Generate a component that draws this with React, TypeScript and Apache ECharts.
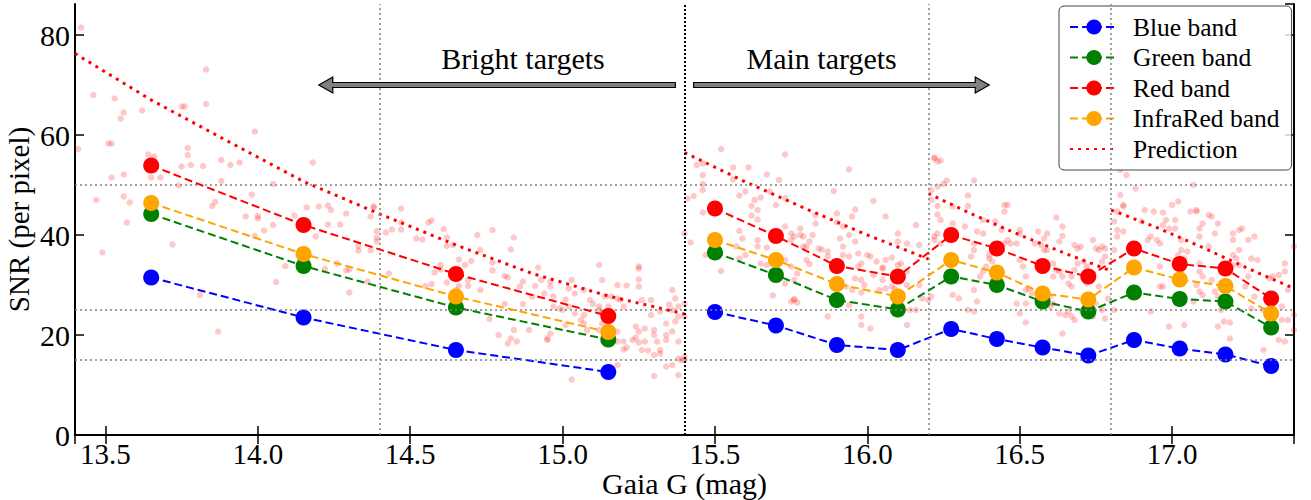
import React, { useEffect, useRef } from "react";
import * as echarts from "echarts";

// ---- data ----
const xBright = [13.65, 14.15, 14.65, 15.15];
const xMain = [15.5, 15.7, 15.9, 16.1, 16.275, 16.425, 16.575, 16.725, 16.875, 17.025, 17.175, 17.325];

const blueBright = [31.5, 23.5, 17.0, 12.6];
const blueMain = [24.6, 21.9, 18.0, 17.0, 21.2, 19.2, 17.5, 15.9, 19.0, 17.3, 16.1, 13.8];
const greenBright = [44.2, 33.8, 25.5, 19.1];
const greenMain = [36.5, 32.0, 27.0, 25.1, 31.7, 30.0, 26.7, 24.7, 28.5, 27.2, 26.7, 21.5];
const redBright = [53.9, 42.0, 32.2, 23.8];
const redMain = [45.3, 39.8, 33.8, 31.7, 40.0, 37.3, 33.8, 31.7, 37.3, 34.2, 33.3, 27.3];
const irBright = [46.4, 36.2, 27.7, 20.6];
const irMain = [39.0, 35.0, 30.2, 27.7, 35.0, 32.5, 28.3, 27.1, 33.5, 31.1, 29.8, 24.3];

const predX1 = [13.4, 13.65, 13.9, 14.15, 14.4, 14.65, 14.9, 15.15, 15.4];
const predY1 = [76.3, 67.0, 58.8, 50.7, 44.2, 38.0, 32.3, 27.8, 24.2];
const predX2 = [15.4, 15.6, 15.8, 16.0, 16.2];
const predY2 = [56.5, 50.6, 45.2, 40.0, 35.2];
const predX3 = [16.2, 16.35, 16.5, 16.65, 16.8];
const predY3 = [48.3, 44.0, 40.0, 36.3, 32.8];
const predX4 = [16.8, 16.95, 17.1, 17.25, 17.4];
const predY4 = [45.0, 41.5, 37.5, 33.3, 29.3];

const hLines = [15, 25, 50];
const vLines = [14.4, 16.2, 16.8];
const boundary = 15.4;

const arrows = [
  [15.37, 14.2, 70],
  [15.43, 16.4, 70],
];
const annotationNames = ["Bright targets", "Main targets"];
const annotationPos = [
  [14.87, 75.3],
  [15.85, 75.3],
];

const stars = [
  [13.42,81.5],[13.46,68],[13.53,67.3],[13.56,64.5],[13.55,63.3],[13.62,64.9],[13.75,65.7],[13.76,65.7],[13.83,73.1],[13.83,66.2],[13.99,60.7],[13.41,57.2],[13.51,58.3],[13.52,58.3],[13.56,52.1],[13.52,51.5],[13.64,56.1],[13.66,55.7],[13.65,51.5],[13.68,51.5],[13.77,57.4],[13.77,56],[13.75,53.7],[13.78,54],[13.82,53.8],[13.88,55],[13.91,54],[13.94,54.5],[13.74,49.9],[13.88,50.8],[14.05,50.2],[14.18,54.5],[13.47,47],[13.56,47.7],[13.58,46.5],[13.57,42.5],[13.85,45.8],[13.86,46.6],[13.98,48.1],[13.96,43.7],[14.0,43.8],[14.0,43.3],[14.02,40.9],[14.05,42],[13.99,39.8],[13.72,38.1],[13.49,36.5],[13.81,28],[14.06,30.6],[13.87,20.7],[14.09,33.8],[14.12,43.9],[14.16,45.5],[14.2,45.7],[14.23,45.9],[14.24,45],[14.23,42.1],[14.27,42.1],[14.29,44.3],[14.19,39.7],[14.26,34.3],[14.3,33.1],[14.33,37.8],[14.33,36.9],[14.37,37],[14.38,45.5],[14.37,43.7],[14.3,28.5],[14.36,30.7],[14.22,33.2],[14.29,32.9],[14.43,32.3],
  [14.38,45.7],[14.47,45.3],[14.56,42.5],[14.57,42.9],[14.61,41.2],[14.47,42.5],[14.47,41.1],[14.44,41.1],[14.39,40.8],[14.39,39.5],[14.39,38.7],[14.42,40.5],[14.52,39.3],[14.54,39.1],[14.62,39.5],[14.64,38],[14.62,37.8],[14.72,40],[14.77,41],[14.84,39.5],[14.83,37.1],[14.73,37],[14.7,34.8],[14.66,35.1],[14.68,34],[14.6,34],[14.6,33.1],[14.58,32.5],[14.62,30.5],[14.57,30.2],[14.55,29.8],[14.66,29.8],[14.65,29],[14.69,31],[14.69,29.8],[14.73,29],[14.77,34.5],[14.77,32.9],[14.82,31.5],[14.81,31.8],[14.86,29.7],[14.87,30.7],[14.91,29.8],[14.92,33.5],[14.93,31],[14.96,30.7],[14.96,29.7],[14.94,28.3],[14.9,27.7],[14.87,26.2],[14.81,26.2],[14.76,23.2],[14.79,20],[14.84,21],[14.83,19.3],[14.85,18.7],[14.82,18.3],[14.89,21],[14.96,20.3],[14.95,19.3],[14.95,19],[15.0,25],[14.99,25.3],[14.97,27.7],[14.97,25.7],[15.01,27.1],[15.02,25.7],[15.04,24.3],[15.06,23],[15.01,22],[15.03,31],[15.02,29.3],[15.04,28.3],[15.07,29],[15.07,24],[15.07,22.3],[15.08,21],[15.09,27],[15.1,26.2],[15.12,34],[15.13,31],[15.14,27.7],[15.16,27.7],[15.18,27.3],[15.12,25.7],[15.12,25],[15.13,24.3],[15.15,25.7],[15.18,30],[15.21,29.9],[15.25,33.3],[15.25,31.1],[15.26,27],[15.19,27],[15.2,25.7],[15.13,22.3],[15.12,21],[15.18,20.7],[15.18,18.7],[15.2,18.7],[15.21,17.5],[15.2,17.1],[15.18,14],[15.24,21.7],[15.25,20.7],[15.24,19.5],[15.25,18.5],[15.23,19],[15.27,21.3],[15.27,18.7],[15.26,17],[15.28,16.9],[15.3,21],[15.3,20],[15.31,18.7],[15.32,17],[15.32,16.3],[15.29,24],[15.32,24.7],[15.34,22.3],[15.34,20],[15.29,27],[15.35,26.1],[15.36,25],[15.36,29],[15.37,27.3],[15.38,25.7],[15.38,23.7],[15.37,22.7],[15.36,20.7],[15.38,18.7],[15.34,19],[15.3,16],[15.34,13.7],[15.36,14],[15.38,15.3],[15.39,15],[15.3,11.8],[15.38,12],[15.03,11.1],[15.25,33.7],[15.25,29.7],
  [15.4,40.3],[15.41,47.3],[15.43,47.8],[15.52,57.2],[15.73,56.1],[15.44,54],[15.46,54.3],[15.46,52],[15.46,50.2],[15.46,49],[15.56,53.5],[15.61,53.5],[15.56,51.1],[15.67,52.1],[15.71,51],[15.94,53.1],[15.46,44.5],[15.6,48.7],[15.58,47.9],[15.63,47],[15.65,47.5],[15.62,45.8],[15.64,45],[15.64,43.1],[15.62,43.9],[15.68,48.7],[15.7,46],[15.73,47.4],[15.58,40.8],[15.59,39.3],[15.64,39],[15.42,38.5],[15.47,36],[15.52,32.8],[15.57,37.7],[15.58,35.3],[15.6,36],[15.65,34.3],[15.67,34],[15.64,37.7],[15.67,37.5],[15.69,27.9],[15.73,41.7],[15.75,40.3],[15.76,39.7],[15.75,39],[15.78,41.3],[15.78,40],[15.79,39.7],[15.81,38.7],[15.8,37.7],[15.79,37.7],[15.73,35],[15.75,33.7],[15.77,32.3],[15.76,31],[15.73,30.3],[15.75,26.7],[15.77,26.5],[15.76,27.2],[15.8,35],[15.81,34.2],[15.83,42.3],[15.83,44],[15.82,40],[15.84,37.3],[15.85,37.1],[15.87,36.7],[15.87,35.7],[15.89,48.8],[15.9,44.3],[15.9,42.5],[15.92,41.7],[15.91,39.3],[15.92,37.7],[15.92,36],[15.95,43.7],[15.96,45.1],[15.94,40],[15.96,38.7],[15.94,35.7],[15.97,33.7],[15.97,36.3],[15.98,34.3],[15.96,31.3],[15.93,29.7],[15.95,29],[15.98,28.5],[15.99,30],[15.98,31],[15.87,23.7],[15.94,26],[15.98,23.7],[16.01,21.3],[16.02,46.8],[16.06,43.7],[16.0,36],[16.01,35.7],[16.03,34.7],[16.05,33.5],[16.05,33.3],[16.06,35],[16.08,35.5],[16.1,40.3],[16.1,38.7],[16.1,34],[16.11,34.3],[16.02,32],[16.05,31],[16.06,29.3],[16.04,29],[16.08,29.7],[16.09,29.3],[16.13,38.3],[16.13,32.7],[16.13,30],[16.17,38],[16.16,42],[16.17,30],[16.18,27.3],[16.14,25],[16.16,25],[16.13,22],[15.4,26.3],[15.4,23.7],[15.4,15.7],[15.4,15],[15.98,22],[15.76,27],
  [16.22,55.3],[16.23,54.7],[16.22,55.5],[16.24,54.9],[16.26,50.9],[16.25,50.2],[16.23,49.7],[16.35,50.9],[16.21,49],[16.21,47],[16.23,45.8],[16.23,44.1],[16.33,47.9],[16.33,45.8],[16.28,45.7],[16.28,42.3],[16.24,43],[16.23,40.3],[16.22,39.7],[16.22,39],[16.24,38.3],[16.32,41.7],[16.36,40.7],[16.38,40.3],[16.35,38.3],[16.35,37],[16.34,35.7],[16.38,43],[16.42,42.7],[16.45,44.7],[16.45,46],[16.46,46],[16.44,41],[16.46,39],[16.45,38.3],[16.47,38.3],[16.49,38.3],[16.5,41],[16.5,40.2],[16.4,36],[16.4,35.3],[16.41,34.7],[16.39,33.7],[16.38,32.7],[16.37,31.7],[16.35,29],[16.28,28],[16.3,27.3],[16.21,27.7],[16.2,27],[16.36,26.7],[16.33,25],[16.35,24.7],[16.5,35],[16.51,33.7],[16.52,31.7],[16.53,29.3],[16.52,29],[16.54,28.3],[16.52,26.3],[16.49,26.3],[16.5,24.3],[16.52,22.5],[16.55,38.3],[16.57,38],[16.58,37],[16.59,37],[16.58,39.3],[16.59,40.3],[16.56,40.7],[16.62,43.5],[16.64,41.7],[16.64,39.8],[16.63,38.7],[16.61,34.3],[16.62,33],[16.61,31.7],[16.63,32.7],[16.64,31.7],[16.66,30.3],[16.67,29.7],[16.67,31.7],[16.68,33],[16.6,27.7],[16.6,25.7],[16.61,26.3],[16.63,24.3],[16.66,24.7],[16.67,23.7],[16.65,24],[16.64,20.3],[16.68,23],[16.68,38],[16.69,37.3],[16.7,37.7],[16.69,34.3],[16.71,34.7],[16.72,33.7],[16.74,39],[16.75,37.3],[16.76,37],[16.77,37.7],[16.78,35.7],[16.77,34.7],[16.76,29.7],[16.75,26.3],[16.77,25],[16.78,23.3],[16.74,23.7],[16.72,30.3],[16.79,27.3],
  [16.81,25],[16.83,53],[16.85,52],[16.88,49.3],[16.83,48],[16.84,46],[16.84,45.7],[16.82,44.7],[16.81,42.7],[16.82,41],[16.84,40.7],[16.82,39.7],[16.81,37],[16.78,37.3],[16.91,45],[16.94,44.7],[16.97,44.5],[17.0,46],[17.02,46.7],[17.08,45],[17.08,44.7],[16.9,42.7],[16.93,39.7],[16.92,39],[16.97,42],[16.99,41.3],[16.98,43],[17.01,43],[17.01,41.3],[16.95,39],[16.96,38.3],[16.96,33.7],[16.96,29.7],[16.97,29.7],[16.93,24.7],[16.99,21.7],[17.04,22],[17.03,39],[17.03,37],[17.02,36],[17.05,36.7],[17.04,35.3],[17.04,34],[17.03,33],[17.07,50],[17.06,44.7],[17.09,41.3],[17.1,42.3],[17.09,39.7],[17.12,44],[17.13,43.7],[17.12,37.7],[17.14,40.3],[17.15,42.3],[17.09,34.3],[17.09,32.7],[17.1,31.7],[17.08,30],[17.09,28.7],[17.1,28],[17.07,26.7],[17.13,31],[17.14,28.7],[17.15,27.7],[17.16,25],[17.17,22.7],[17.15,21.7],[17.19,22.5],[17.19,19.3],[17.2,40.3],[17.2,39],[17.22,41],[17.23,41.3],[17.22,37],[17.21,35.3],[17.22,34],[17.2,36],[17.2,34],[17.25,39],[17.27,39.7],[17.26,35.3],[17.28,35],[17.25,31.7],[17.24,29.7],[17.27,27.7],[17.26,25.3],[17.3,25],[17.32,31.3],[17.33,31.7],[17.35,32],[17.37,34.3],[17.37,32.7],[17.4,37.7],[17.38,29],[17.4,24],[17.36,25.7],[17.36,23],[17.38,23],[17.4,21],[17.37,18.7],[17.35,19],[17.3,17],
];

const FONT = "Liberation Serif";
const zip = (xs: number[], ys: number[]) => xs.map((x, i) => [x, ys[i]]);

export default function App() {
  const ref = useRef<HTMLDivElement>(null);
  useEffect(() => {
    const chart = echarts.init(ref.current!, null, { renderer: "svg" });

    const axisLine = { show: true, lineStyle: { color: "#000", width: 2 } };
    const axisTick = { show: true, inside: true, length: 9, lineStyle: { color: "#000", width: 1.5 } };
    const tickFont = { fontSize: 29, color: "#000", fontFamily: FONT };

    const band = (name: string, color: string, xs: number[], ys: number[], z: number) => ({
      type: "line",
      name,
      data: zip(xs, ys),
      symbol: "circle",
      symbolSize: 16,
      lineStyle: { color, width: 2, type: [8, 4] },
      itemStyle: { color },
      z,
      silent: true,
    });
    const pred = (xs: number[], ys: number[]) => ({
      type: "line",
      name: "Prediction",
      data: zip(xs, ys),
      symbol: "none",
      lineStyle: { color: "#ff0000", width: 3, type: [3, 5] },
      itemStyle: { color: "rgba(0,0,0,0)" },
      z: 2,
      silent: true,
    });

    const gray = { color: "#808080", type: [2, 3], width: 1.5 };

    const option: any = {
      animation: false,
      textStyle: { fontFamily: FONT },
      grid: { left: 75, right: 17, top: 4, bottom: 65, containLabel: false, outerBoundsMode: "none" },
      legend: {
        data: [
          "Blue band",
          "Green band",
          "Red band",
          "InfraRed band",
          { name: "Prediction", itemStyle: { color: "rgba(0,0,0,0)", opacity: 0 } },
        ],
        orient: "vertical",
        left: 1059,
        top: 6,
        padding: [8, 12, 8, 10],
        itemGap: 4.5,
        itemWidth: 48,
        itemHeight: 19,
        backgroundColor: "rgba(255,255,255,0.8)",
        borderColor: "#444",
        borderWidth: 1,
        borderRadius: 5,
        textStyle: { fontSize: 25.5, fontFamily: FONT, color: "#000", padding: [0, 0, 0, 10] },
        selectedMode: false,
      },
      xAxis: [
        {
          type: "value", min: 13.4, max: 17.4, splitNumber: 8, position: "bottom",
          axisLine, axisTick,
          axisLabel: { ...tickFont, lineHeight: 26, margin: 6, showMinLabel: false, showMaxLabel: false, formatter: (v: number) => v.toFixed(1) },
          splitLine: { show: false },
          name: "Gaia G (mag)", nameLocation: "middle", nameGap: 36, nameMoveOverlap: false,
          nameTextStyle: { fontSize: 30, lineHeight: 24, fontFamily: FONT, color: "#000" },
        },
        {
          type: "value", min: 13.4, max: 17.4, splitNumber: 8, position: "top",
          axisLine, axisTick, axisLabel: { show: false }, splitLine: { show: false },
        },
      ],
      yAxis: [
        {
          type: "value", min: 0, max: 86.2, interval: 20, position: "left",
          axisLine, axisTick,
          axisLabel: { ...tickFont, fontSize: 30, margin: 5, showMaxLabel: false },
          splitLine: { show: false },
          name: "SNR (per pixel)", nameLocation: "middle", nameGap: 42, nameMoveOverlap: false,
          nameTextStyle: { fontSize: 29, fontFamily: FONT, color: "#000" },
        },
        {
          type: "value", min: 0, max: 86.2, interval: 20, position: "right",
          axisLine, axisTick, axisLabel: { show: false }, splitLine: { show: false },
        },
      ],
      series: [
        {
          type: "scatter",
          data: stars,
          symbolSize: 6.5,
          itemStyle: { color: "rgba(255,0,0,0.27)" },
          silent: true,
          z: 1,
          markLine: {
            silent: true,
            symbol: ["none", "none"],
            label: { show: false },
            lineStyle: gray,
            data: [
              ...hLines.map((v) => ({ yAxis: v })),
              ...vLines.map((v) => ({ xAxis: v })),
              { xAxis: boundary, lineStyle: { color: "#000", type: [2, 2], width: 2 } },
            ],
          },
        },
        pred(predX1, predY1),
        pred(predX2, predY2),
        pred(predX3, predY3),
        pred(predX4, predY4),
        band("Blue band", "#0000ff", xBright, blueBright, 3),
        band("Blue band", "#0000ff", xMain, blueMain, 3),
        band("Green band", "#008000", xBright, greenBright, 4),
        band("Green band", "#008000", xMain, greenMain, 4),
        band("Red band", "#ff0000", xBright, redBright, 5),
        band("Red band", "#ff0000", xMain, redMain, 5),
        band("InfraRed band", "#ffa500", xBright, irBright, 6),
        band("InfraRed band", "#ffa500", xMain, irMain, 6),
        {
          type: "custom",
          data: arrows,
          encode: { x: [0, 1], y: 2 },
          clip: false,
          silent: true,
          z: 7,
          renderItem: (params: any, api: any) => {
            const y = api.value(2);
            const p1 = api.coord([api.value(0), y]);
            const p2 = api.coord([api.value(1), y]);
            const dir = p2[0] > p1[0] ? 1 : -1;
            const h = 2.5, H = 8, L = 14;
            const xh = p2[0] - dir * L;
            const cy = p1[1];
            return {
              type: "polygon",
              shape: {
                points: [
                  [p1[0], cy - h], [xh, cy - h], [xh, cy - H], [p2[0], cy],
                  [xh, cy + H], [xh, cy + h], [p1[0], cy + h],
                ],
              },
              style: { fill: "#808080", stroke: "#000", lineWidth: 1.2 },
            };
          },
        },
        {
          type: "custom",
          data: annotationPos,
          clip: false,
          silent: true,
          z: 7,
          renderItem: (params: any, api: any) => {
            const p = api.coord([api.value(0), api.value(1)]);
            return {
              type: "text",
              x: p[0],
              y: p[1],
              style: {
                text: annotationNames[params.dataIndex],
                fontSize: 30,
                fontFamily: FONT,
                fill: "#000",
                align: "center",
                verticalAlign: "middle",
              },
            };
          },
        },
      ],
    };
    chart.setOption(option);
    return () => chart.dispose();
  }, []);
  return <div ref={ref} style={{ position: "absolute", left: 0, top: 0, width: 1311, height: 500 }} />;
}
